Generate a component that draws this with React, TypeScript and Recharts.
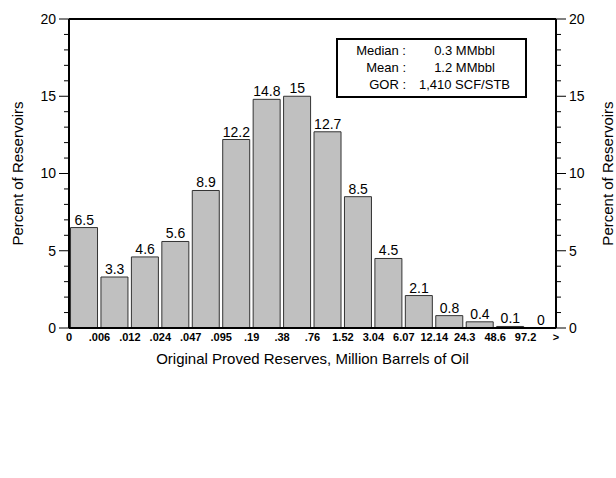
import React from 'react';
import { ComposedChart, Bar, Line, XAxis, YAxis, ReferenceLine, LabelList, Label } from 'recharts';

// percent of reservoirs in each size class
const percents = [6.5, 3.3, 4.6, 5.6, 8.9, 12.2, 14.8, 15, 12.7, 8.5, 4.5, 2.1, 0.8, 0.4, 0.1, 0];

// class boundaries (MMbbl) shown under the bars
const edgeLabels = ['0', '.006', '.012', '.024', '.047', '.095', '.19', '.38', '.76', '1.52', '3.04', '6.07', '12.14', '24.3', '48.6', '97.2', '>'];
const edgeTicks = edgeLabels.map((_, i) => i);

const yTicks = [0, 1, 2, 3, 4, 5, 6, 7, 8, 9, 10, 11, 12, 13, 14, 15, 16, 17, 18, 19, 20];

const statLabels = ['Median :', 'Mean :', 'GOR :'];
const statValues = ['0.3 MMbbl', '1.2 MMbbl', '1,410 SCF/STB'];

// each bin sits between two boundaries, so its centre is index + 0.5
const data = percents.map((p, i) => ({ mid: i + 0.5, pct: p }));

const FONT = 'Arial, "Liberation Sans", sans-serif';

const YTick = ({ x, y, payload, side }: any) => {
  const major = payload.value % 5 === 0;
  const len = major ? 10 : 5;
  const dir = side === 'left' ? -1 : 1;
  return (
    <g>
      <line x1={x} y1={y} x2={x + dir * len} y2={y} stroke="#000" strokeWidth={1} />
      {major && (
        <text
          x={x + dir * (len + 3)}
          y={y}
          dy="0.35em"
          textAnchor={side === 'left' ? 'end' : 'start'}
          fontSize={14}
          fontFamily={FONT}
          fill="#000"
        >
          {payload.value}
        </text>
      )}
    </g>
  );
};

export default function App() {
  return (
    <div style={{ position: 'relative', width: 616, height: 478, fontFamily: FONT }}>
      <style>{'body{margin:0;background:#fff}'}</style>
      <ComposedChart
        width={616}
        height={478}
        data={data}
        margin={{ top: 19, right: 0, bottom: 110, left: 0 }}
        barCategoryGap="5%"
      >
        <XAxis
          dataKey="mid"
          type="number"
          domain={[0, 16]}
          ticks={edgeTicks}
          interval={0}
          tickFormatter={(v: number) => edgeLabels[v]}
          axisLine={{ stroke: '#000', strokeWidth: 2 }}
          tickLine={false}
          tickSize={0}
          tickMargin={5}
          height={40}
          tick={{ fontSize: 11, fontWeight: 'bold', fill: '#000', fontFamily: FONT }}
        >
          <Label
            value="Original Proved Reserves, Million Barrels of Oil"
            position="insideBottom"
            offset={4}
            style={{ fontSize: 15, fill: '#000', fontFamily: FONT }}
          />
        </XAxis>
        <YAxis
          yAxisId="left"
          domain={[0, 20]}
          ticks={yTicks}
          interval={0}
          width={69}
          tickSize={0}
          tickMargin={0}
          tickLine={false}
          axisLine={{ stroke: '#000', strokeWidth: 2 }}
          tick={<YTick side="left" />}
        >
          <Label
            value="Percent of Reservoirs"
            angle={-90}
            position="center"
            dx={-17}
            style={{ fontSize: 15, fill: '#000', fontFamily: FONT, textAnchor: 'middle' }}
          />
        </YAxis>
        <YAxis
          yAxisId="right"
          orientation="right"
          domain={[0, 20]}
          ticks={yTicks}
          interval={0}
          width={60}
          tickSize={0}
          tickMargin={0}
          tickLine={false}
          axisLine={{ stroke: '#000', strokeWidth: 2 }}
          tick={<YTick side="right" />}
        >
          <Label
            value="Percent of Reservoirs"
            angle={-90}
            position="center"
            dx={22}
            style={{ fontSize: 15, fill: '#000', fontFamily: FONT, textAnchor: 'middle' }}
          />
        </YAxis>
        <ReferenceLine yAxisId="left" y={20} stroke="#000" strokeWidth={2} />
        <Bar
          dataKey="pct"
          yAxisId="left"
          fill="#c0c0c0"
          stroke="#333"
          strokeWidth={1}
          isAnimationActive={false}
        />
        {/* invisible line that carries the value labels, so the 0 bin gets one too */}
        <Line
          dataKey="pct"
          yAxisId="right"
          stroke="none"
          dot={false}
          activeDot={false}
          isAnimationActive={false}
        >
          <LabelList dataKey="pct" position="top" offset={3} fontSize={14} fill="#000" fontFamily={FONT} />
        </Line>
      </ComposedChart>
      <div
        style={{
          position: 'absolute',
          left: 336,
          top: 38,
          width: 191,
          height: 60,
          border: '2px solid #000',
          background: '#fff',
          boxSizing: 'border-box',
          fontSize: 13,
          color: '#000',
          display: 'grid',
          gridTemplateColumns: '72px 1fr',
          alignContent: 'center',
          rowGap: 1,
          lineHeight: '16px',
        }}
      >
        {statLabels.map((l, i) => (
          <React.Fragment key={l}>
            <div style={{ textAlign: 'right', paddingRight: 4 }}>{l}</div>
            <div style={{ textAlign: 'center', paddingRight: 6 }}>{statValues[i]}</div>
          </React.Fragment>
        ))}
      </div>
    </div>
  );
}
